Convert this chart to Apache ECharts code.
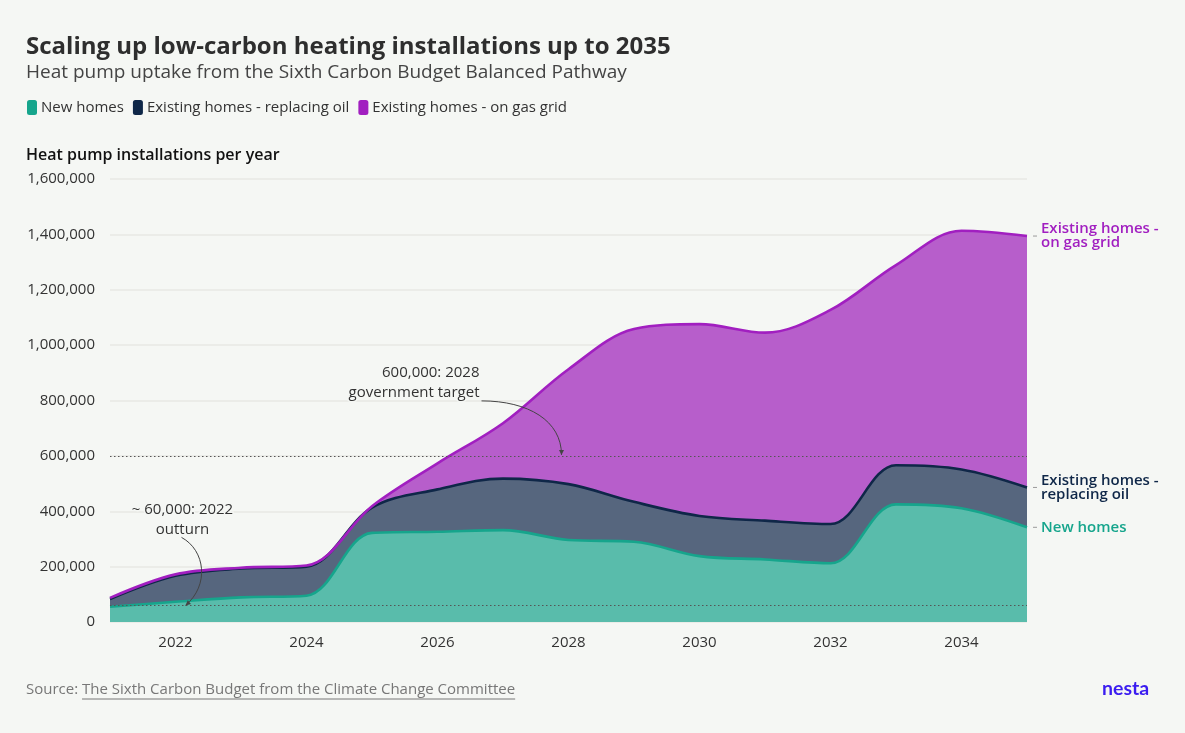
<!DOCTYPE html>
<html>
<head>
<meta charset="utf-8">
<title>Scaling up low-carbon heating installations up to 2035</title>
<script src="https://cdn.jsdelivr.net/npm/echarts@6/dist/echarts.min.js"></script>
<style>
  html, body { margin: 0; padding: 0; background: #f5f7f4; }
  #chart { width: 1185px; height: 733px; }
</style>
</head>
<body>
<div id="chart"></div>
<script>
// values, installations per year
const years = ['2021', '2022', '2023', '2024', '2025', '2026', '2027', '2028',
  '2029', '2030', '2031', '2032', '2033', '2034', '2035'];
const newHomes = [55000, 73000, 89000, 95000, 322000, 326000, 332000, 296000,
  290000, 238000, 226000, 212000, 425000, 411000, 342000];
const replacingOil = [28000, 94000, 104000, 105000, 91000, 153000, 186000, 202000,
  144000, 145000, 140000, 142000, 141000, 140000, 144000];
const onGasGrid = [4000, 5000, 3000, 4000, 5000, 94000, 200000, 415000,
  624000, 693000, 679000, 773000, 723000, 862000, 908000];

const seriesNames = ['New homes', 'Existing homes - replacing oil', 'Existing homes - on gas grid'];
const endLabels = ['New homes', 'Existing homes -\nreplacing oil', 'Existing homes -\non gas grid'];
const lineColors = ['#16a58c', '#0f2748', '#a11fc0'];
const fillColors = ['#59bcab', '#56667e', '#b75ecb'];

const outturn = 60000;
const target = 600000;
const yTicks = [0, 200000, 400000, 600000, 800000, 1000000, 1200000, 1400000, 1600000];

const FONT = '"Open Sans", "Noto Sans", sans-serif';
const BG = '#f5f7f4';
const SMOOTH = 0.35;

const chart = echarts.init(document.getElementById('chart'));
const values = [newHomes, replacingOil, onGasGrid];

const areaSeries = values.map((d, i) => ({
  name: seriesNames[i],
  type: 'line',
  stack: 'areas',
  data: d,
  smooth: SMOOTH,
  showSymbol: false,
  color: lineColors[i],
  lineStyle: { width: 0 },
  areaStyle: { color: fillColors[i], opacity: 1 },
  z: 2
}));

const lineSeries = values.map((d, i) => ({
  name: seriesNames[i],
  type: 'line',
  stack: 'lines',
  data: d,
  smooth: SMOOTH,
  showSymbol: false,
  color: lineColors[i],
  lineStyle: { width: 2.6, color: lineColors[i] },
  z: 3 + i,
  endLabel: {
    show: true,
    distance: 14,
    formatter: () => endLabels[i],
    color: lineColors[i],
    fontFamily: FONT,
    fontSize: 15,
    fontWeight: 600,
    lineHeight: 14,
    align: 'left',
    verticalAlign: 'middle'
  }
}));

lineSeries[2].markLine = {
  silent: true,
  symbol: 'none',
  label: { show: false },
  lineStyle: { color: '#555', width: 1, type: [1.5, 2.5] },
  data: [{ yAxis: outturn }, { yAxis: target }],
  z: 10
};

chart.setOption({
  backgroundColor: BG,
  animation: false,
  textStyle: { fontFamily: FONT },
  title: [
    {
      text: 'Scaling up low-carbon heating installations up to 2035',
      left: 21, top: 30,
      textStyle: { fontSize: 24, fontWeight: 'bold', color: '#2e2e2e', fontFamily: FONT }
    },
    {
      text: 'Heat pump uptake from the Sixth Carbon Budget Balanced Pathway',
      left: 21, top: 58,
      textStyle: { fontSize: 19, fontWeight: 'normal', color: '#444', fontFamily: FONT }
    },
    {
      text: 'Heat pump installations per year',
      left: 21, top: 142,
      textStyle: { fontSize: 16, fontWeight: 600, color: '#111', fontFamily: FONT }
    }
  ],
  legend: {
    data: seriesNames,
    left: 22, top: 95,
    icon: 'roundRect',
    itemWidth: 10, itemHeight: 15,
    itemGap: 9,
    textStyle: { fontSize: 15, color: '#333', fontFamily: FONT, padding: [0, 0, 0, -1] }
  },
  grid: { left: 110, right: 158, top: 179, bottom: 111 },
  xAxis: {
    type: 'category',
    data: years,
    boundaryGap: false,
    axisLine: { show: false },
    axisTick: { show: false },
    axisLabel: {
      interval: (idx) => idx % 2 === 1,
      margin: 13,
      fontSize: 15,
      color: '#333',
      fontFamily: FONT
    }
  },
  yAxis: {
    type: 'value',
    min: yTicks[0],
    max: yTicks[yTicks.length - 1],
    interval: yTicks[1] - yTicks[0],
    axisLine: { show: false },
    axisTick: { show: false },
    axisLabel: {
      margin: 15,
      fontSize: 15,
      color: '#333',
      fontFamily: FONT,
      formatter: (v) => v.toLocaleString('en-GB')
    },
    splitLine: { lineStyle: { color: '#e7e8e5', width: 1.5 } }
  },
  series: areaSeries.concat(lineSeries)
});

// annotations placed from the axes
function px(i, v) {
  return chart.convertToPixel({ gridIndex: 0 }, [i, v]);
}

function arrow(p0, c1, c2, p1) {
  const dx = p1[0] - c2[0], dy = p1[1] - c2[1];
  const len = Math.sqrt(dx * dx + dy * dy);
  const ux = dx / len, uy = dy / len;
  const s = 5;
  return [
    {
      type: 'bezierCurve',
      shape: { x1: p0[0], y1: p0[1], cpx1: c1[0], cpy1: c1[1], cpx2: c2[0], cpy2: c2[1], x2: p1[0], y2: p1[1] },
      style: { stroke: '#444', lineWidth: 1, fill: null },
      z: 20
    },
    {
      type: 'polygon',
      shape: { points: [
        [p1[0], p1[1]],
        [p1[0] - ux * s - uy * s * 0.5, p1[1] - uy * s + ux * s * 0.5],
        [p1[0] - ux * s + uy * s * 0.5, p1[1] - uy * s - ux * s * 0.5]
      ] },
      style: { fill: '#444' },
      z: 20
    }
  ];
}

const annoText = {
  fill: '#333', fontSize: 15, fontFamily: FONT, lineHeight: 20,
  stroke: BG, lineWidth: 3
};

const P = px(1, outturn);   // 2022 outturn
const Q = px(7, target);    // 2028 target

const measure = document.createElement('canvas').getContext('2d');
measure.font = '15px ' + FONT;
const srcLead = 'Source: ';
const srcLink = 'The Sixth Carbon Budget from the Climate Change Committee';
const leadW = measure.measureText(srcLead).width;
const linkW = measure.measureText(srcLink).width;

const graphics = [];
graphics.push({
  type: 'text', x: P[0] + 7, y: P[1] - 106,
  style: Object.assign({ text: '~ 60,000: 2022\noutturn', align: 'center', verticalAlign: 'top' }, annoText),
  z: 20
});
graphics.push(...arrow(
  [P[0] + 6, P[1] - 68], [P[0] + 30, P[1] - 55], [P[0] + 34, P[1] - 20], [P[0] + 10, P[1]]
));
graphics.push({
  type: 'text', x: Q[0] - 89, y: Q[1] - 93,
  style: Object.assign({ text: '600,000: 2028\ngovernment target', align: 'right', verticalAlign: 'top' }, annoText),
  z: 20
});
graphics.push(...arrow(
  [Q[0] - 87, Q[1] - 55], [Q[0] - 40, Q[1] - 55], [Q[0] - 7, Q[1] - 35], [Q[0] - 7, Q[1] - 1]
));

// small grey ticks before the end labels
let cum = 0;
values.forEach((d) => {
  cum += d[d.length - 1];
  const e = px(years.length - 1, cum);
  graphics.push({
    type: 'line',
    shape: { x1: e[0] + 6, y1: e[1], x2: e[0] + 10, y2: e[1] },
    style: { stroke: '#9a9a9a', lineWidth: 1 },
    z: 20
  });
});

graphics.push({
  type: 'text', x: 26, y: 690,
  style: { text: srcLead + srcLink, fill: '#777', fontSize: 15, fontFamily: FONT, verticalAlign: 'middle' }
});
graphics.push({
  type: 'line',
  shape: { x1: 26 + leadW, y1: 699, x2: 26 + leadW + linkW, y2: 699 },
  style: { stroke: '#777', lineWidth: 1 }
});
graphics.push({
  type: 'text', x: 1102, y: 689,
  style: { text: 'nesta', fill: '#3a1cf0', fontSize: 19.5, fontWeight: 'bold', fontFamily: 'Lato, sans-serif', verticalAlign: 'middle' }
});

chart.setOption({ graphic: graphics });
</script>
</body>
</html>
